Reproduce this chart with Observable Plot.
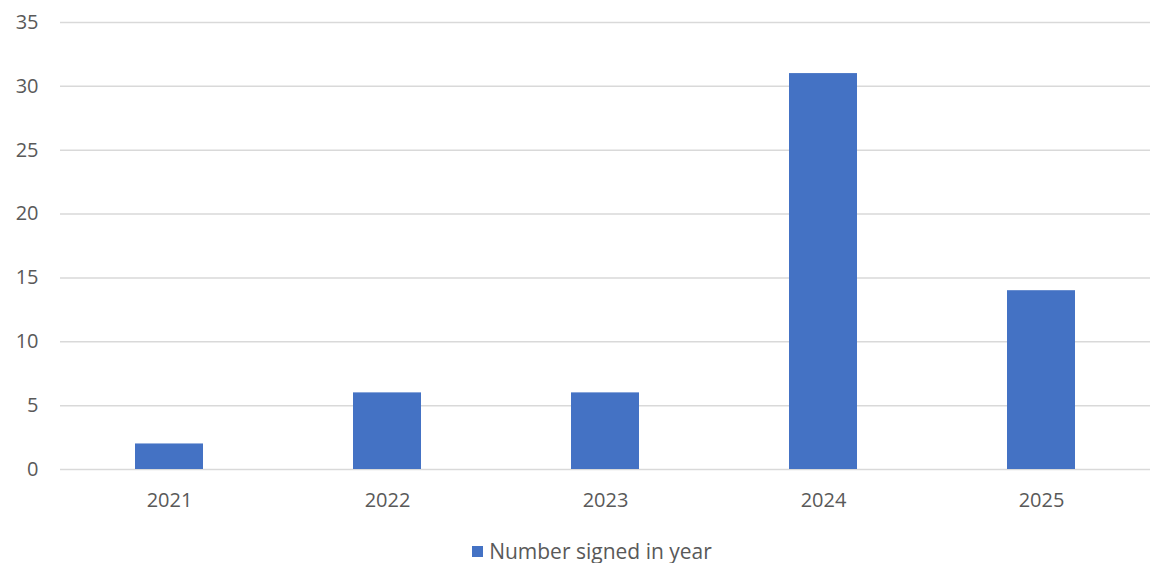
<!DOCTYPE html>
<html>
<head>
<meta charset="utf-8">
<script src="https://cdn.jsdelivr.net/npm/d3@7"></script>
<script src="https://cdn.jsdelivr.net/npm/@observablehq/plot@0.6"></script>
<style>
  body { margin: 0; background: #ffffff; font-family: "Open Sans", sans-serif; }
  #legend { display: flex; justify-content: center; align-items: center; margin-top: 19px; padding-left: 32px; height: 24px; line-height: 24px; font-size: 21px; color: #595959; }
  #legend .swatch { width: 11px; height: 11px; background: #4472c4; margin-right: 6px; }
</style>
</head>
<body>
<div id="chart"></div>
<script>
// Agreements signed per year
const years = ["2021", "2022", "2023", "2024", "2025"];
const signed = [2, 6, 6, 31, 14];
const yTicks = [0, 5, 10, 15, 20, 25, 30, 35];
const seriesName = "Number signed in year";

const data = years.map((year, i) => ({ year, value: signed[i] }));

const chart = Plot.plot({
  width: 1152,
  height: 520,
  marginTop: 22,
  marginBottom: 51,
  marginLeft: 60,
  marginRight: 2,
  style: { fontFamily: "'Open Sans', sans-serif", fontSize: "20px", color: "#595959", background: "#ffffff" },
  x: { domain: years, paddingInner: 0.69, paddingOuter: 0.345, label: null, tickSize: 0, tickPadding: 23 },
  y: { domain: [0, 35], ticks: yTicks, label: null, tickSize: 0, tickPadding: 22 },
  marks: [
    Plot.ruleY(yTicks, { stroke: "#d9d9d9", strokeWidth: 1.5 }),
    Plot.barY(data, { x: "year", y: "value", fill: "#4472c4" })
  ]
});
document.getElementById("chart").appendChild(chart);

// Series legend below the plot
const legend = document.createElement("div");
legend.id = "legend";
const swatch = document.createElement("span");
swatch.className = "swatch";
const label = document.createElement("span");
label.textContent = seriesName;
legend.appendChild(swatch);
legend.appendChild(label);
document.body.appendChild(legend);
</script>
</body>
</html>
